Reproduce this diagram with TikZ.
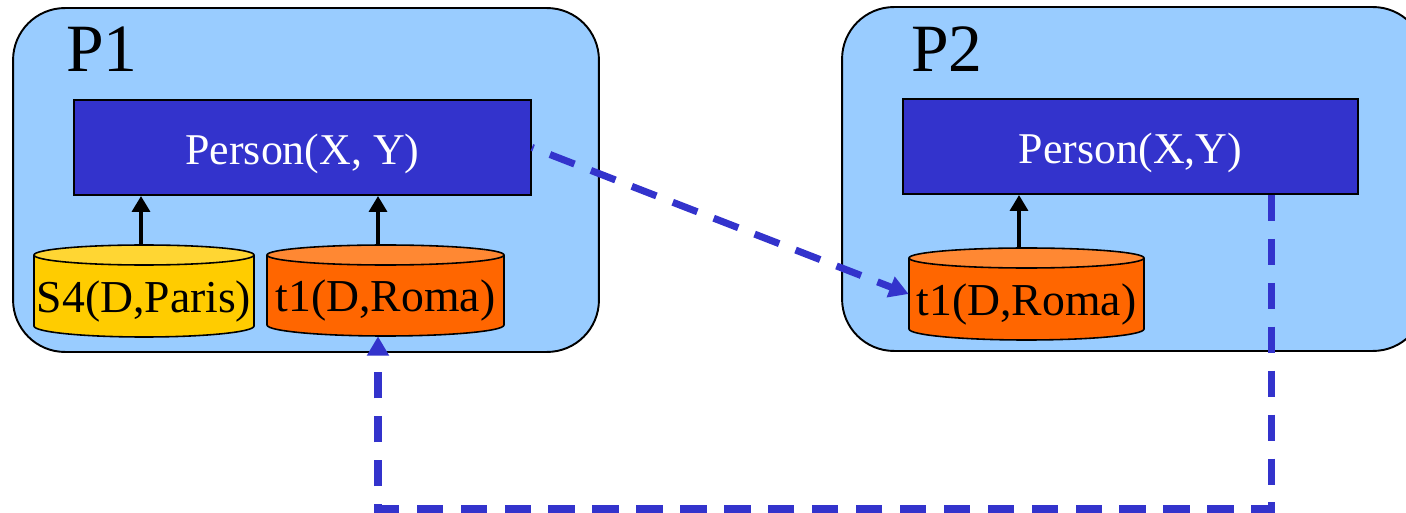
\documentclass[tikz,border=0pt]{standalone}
\usepackage{fontspec}
\setmainfont{Liberation Serif}
\usetikzlibrary{arrows.meta}

\definecolor{peerfill}{HTML}{99CCFF}
\definecolor{relblue}{HTML}{3333CC}
\definecolor{yellowbody}{HTML}{FFCC00}
\definecolor{yellowtop}{HTML}{FFD633}
\definecolor{orangebody}{HTML}{FF6600}
\definecolor{orangetop}{HTML}{FF8833}

\tikzset{
  peer/.style={draw=black, line width=1.1pt, fill=peerfill, rounded corners=1.04cm, inner sep=0},
  peerlabel/.style={inner sep=0, font=\fontsize{38.5}{44}\selectfont},
  relbox/.style={draw=black, line width=1.1pt, fill=relblue, text=white, inner sep=0,
    text height=19.8pt, text depth=0pt, font=\fontsize{25}{30}\selectfont},
  cylline/.style={draw=black, line width=0.9pt},
  cylframe/.style={inner sep=0},
  cyltext/.style={inner sep=0, anchor=base, font=\fontsize{26}{30}\selectfont},
  uparrow/.style={draw=black, line width=2.5pt, -{Triangle[width=10pt,length=9pt]}},
  link/.style={draw=relblue, line width=4pt, dash pattern=on 15pt off 10pt,
    line join=miter, -{Triangle[width=12pt,length=11pt]}}
}

% database cylinder: name, left x, right x, top-ellipse y, bottom-ellipse y,
% body colour, lid colour, label
\newcommand\dbcyl[8]{%
  \pgfmathsetmacro\cylrx{(#3-#2)/2}%
  \pgfmathsetmacro\cylcx{(#3+#2)/2}%
  \pgfmathsetmacro\cylcy{(#4+#5+1)/2}%
  \pgfmathsetmacro\cylw{(#3-#2)*0.02}%
  \pgfmathsetmacro\cylh{(#5-#4+21)*0.02}%
  \path[cylline, fill=#6] (#2,#4) -- (#2,#5)
    arc[start angle=180, end angle=0, x radius=\cylrx, y radius=11] -- (#3,#4);
  \path[cylline, fill=#7] (\cylcx,#4) ellipse[x radius=\cylrx, y radius=10];
  \node[cylframe, minimum width=\cylw cm, minimum height=\cylh cm] (#1) at (\cylcx,\cylcy) {};
  \node[cyltext] (#1-text) at (\cylcx,#5-14) {#8};
}

\begin{document}
\begin{tikzpicture}[x=0.02cm, y=-0.02cm]
  \useasboundingbox (0,0) rectangle (1406,513);
  \clip (0,0) rectangle (1406,513);

  % the two peers
  \node[peer, minimum width=11.72cm, minimum height=6.88cm] (p1) at (306,180) {};
  \node[peer, minimum width=11.66cm, minimum height=6.88cm] (p2) at (1133.5,179) {};
  \node[peerlabel, anchor=base west] (p1name) at (66,72) {P1};
  \node[peerlabel, anchor=base west] (p2name) at (911,72) {P2};

  % relations
  \node[relbox, minimum width=9.14cm, minimum height=1.9cm] (p1rel) at (302.5,147.5) {Person(X, Y)};
  \node[relbox, minimum width=9.1cm, minimum height=1.9cm] (p2rel) at (1130.5,146.5) {Person(X,Y)};

  % sources
  \dbcyl{s4}{34}{254}{255}{326}{yellowbody}{yellowtop}{S4(D,Paris)}
  \dbcyl{t1a}{267}{504}{255}{325}{orangebody}{orangetop}{t1(D,Roma)}
  \dbcyl{t1b}{909}{1144}{258}{329}{orangebody}{orangetop}{t1(D,Roma)}

  % local mappings
  \draw[uparrow] ([xshift=-0.06cm]s4.north) -- ([xshift=-0.06cm]s4.north |- p1rel.south);
  \draw[uparrow] ([xshift=-0.15cm]t1a.north) -- ([xshift=-0.15cm]t1a.north |- p1rel.south);
  \draw[uparrow] ([xshift=-0.15cm]t1b.north) -- ([xshift=-0.15cm]t1b.north |- p2rel.south);

  % peer mappings
  \draw[link, dash phase=14pt] (p1rel.east) -- (t1b.west);
  \coordinate (turnR) at (1271,509);
  \coordinate (turnL) at (378,509);
  \draw[link] (p2rel.south -| turnR) -- (turnR) -- (turnL) -- (turnL |- t1a.south);
\end{tikzpicture}
\end{document}
